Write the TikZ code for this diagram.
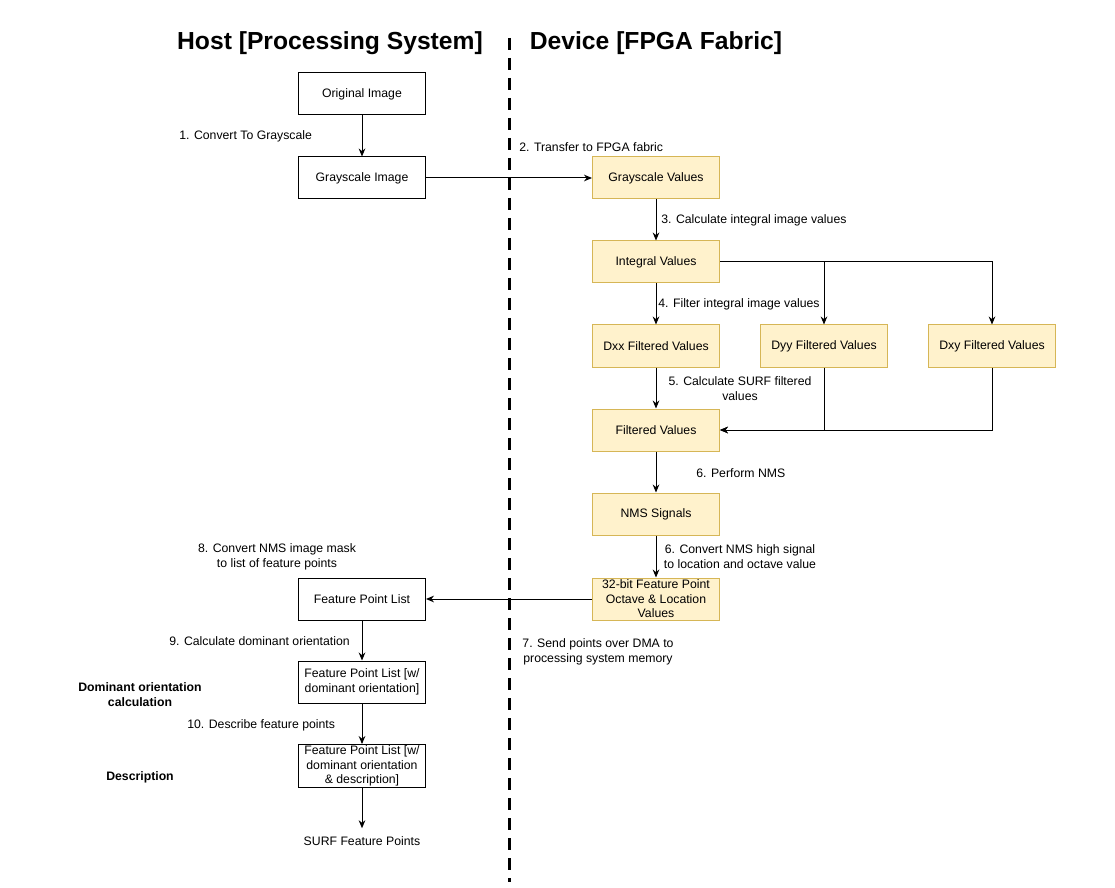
\documentclass[tikz,border=0pt]{standalone}
\usepackage{fontspec}
\setmainfont{Liberation Sans}
\usetikzlibrary{arrows.meta}
\definecolor{fpgafill}{HTML}{FFF2CC}
\definecolor{fpgaline}{HTML}{D6B656}

\begin{document}
\begin{tikzpicture}[x=0.75pt,y=0.75pt,yscale=-1,xscale=1,
	hostbox/.style={draw,line width=0.75pt,minimum width=95.25pt,minimum height=31.5pt,inner sep=1pt,align=center,font=\fontsize{9.2}{10.8}\selectfont},
	fpgabox/.style={hostbox,draw=fpgaline,fill=fpgafill},
	lbl/.style={inner sep=0.75pt,align=center,font=\fontsize{9.2}{11}\selectfont},
	ttl/.style={inner sep=0pt,anchor=base,font=\fontsize{18.5}{22}\selectfont\bfseries},
	side/.style={inner sep=0pt,align=center,font=\fontsize{9.2}{11}\selectfont\bfseries},
	arr/.style={-{Stealth[length=6pt,width=5pt]},line width=0.75pt}]
		\useasboundingbox (0,0) rectangle (1115,888);

		% host / device split
		\draw [line width=2.25pt,dash pattern=on 9pt off 6pt] (509,38) -- (509,882) ;
		\node [ttl] (host) at (330,50) {Host [Processing System]};
		\node [ttl] (dev) at (656,50) {Device [FPGA Fabric]};

		\node [hostbox] (orig) at (362,94) {Original Image};
		\node [hostbox] (gimg) at (362,178) {Grayscale Image};
		\node [fpgabox] (gval) at (656,178) {Grayscale Values};
		\node [fpgabox] (integ) at (656,262) {Integral Values};
		\node [fpgabox] (dxx) at (656,346) {Dxx Filtered Values};
		\node [fpgabox] (dyy) at (824,346) {Dyy Filtered Values};
		\node [fpgabox] (dxy) at (992,346) {Dxy Filtered Values};
		\node [fpgabox] (filt) at (656,430) {Filtered Values};
		\node [fpgabox] (nms) at (656,514) {NMS Signals};
		\node [fpgabox] (fp32) at (656,599) {32-bit Feature Point\\Octave \& Location\\Values};
		\node [hostbox] (fpl) at (362,599) {Feature Point List};
		\node [hostbox] (fpldom) at (362,682) {Feature Point List [w/\\dominant orientation]};
		\node [hostbox] (fpldesc) at (362,766) {Feature Point List [w/\\dominant orientation\\\& description]};
		\node [lbl,inner sep=6pt] (surf) at (362,841) {SURF Feature Points};

		\draw [arr] (orig) -- (gimg) ;
		\draw [arr] (gimg) -- (gval) ;
		\draw [arr] (gval) -- (integ) ;
		\draw [arr] (integ) -- (dxx) ;
		\draw [arr] (integ.east) -| (dyy.north) ;
		\draw [arr] (integ.east) -| (dxy.north) ;
		\draw [arr] (dxx) -- (filt) ;
		\draw [arr] (dyy.south) |- (filt.east) ;
		\draw [arr] (dxy.south) |- (filt.east) ;
		\draw [arr] (filt) -- (nms) ;
		\draw [arr] (nms) -- (fp32) ;
		\draw [arr] (fp32) -- (fpl) ;
		\draw [arr] (fpl) -- (fpldom) ;
		\draw [arr] (fpldom) -- (fpldesc) ;
		\draw [arr] (fpldesc) -- (surf) ;

		% step labels
		\node [lbl,anchor=west] (l1) at (178,136) {1. Convert To Grayscale};
		\node [lbl,anchor=west] (l2) at (518,147) {2. Transfer to FPGA fabric};
		\node [lbl,anchor=west] (l3) at (660,220) {3. Calculate integral image values};
		\node [lbl,anchor=west] (l4) at (657,304) {4. Filter integral image values};
		\node [lbl] (l5) at (740,388.5) {5. Calculate SURF filtered\\values};
		\node [lbl,anchor=west] (l6) at (695,473) {6. Perform NMS};
		\node [lbl] (l6b) at (740,556.5) {6. Convert NMS high signal\\to location and octave value};
		\node [lbl] (l7) at (598,651.5) {7. Send points over DMA to\\processing system memory};
		\node [lbl] (l8) at (277,557) {8. Convert NMS image mask\\to list of feature points};
		\node [lbl,anchor=west] (l9) at (168,641) {9. Calculate dominant orientation};
		\node [lbl,anchor=west] (l10) at (186,725) {10. Describe feature points};
		\node [side] (sdom) at (140,694.5) {Dominant orientation\\calculation};
		\node [side] (sdesc) at (140,777) {Description};
	\end{tikzpicture}
\end{document}
